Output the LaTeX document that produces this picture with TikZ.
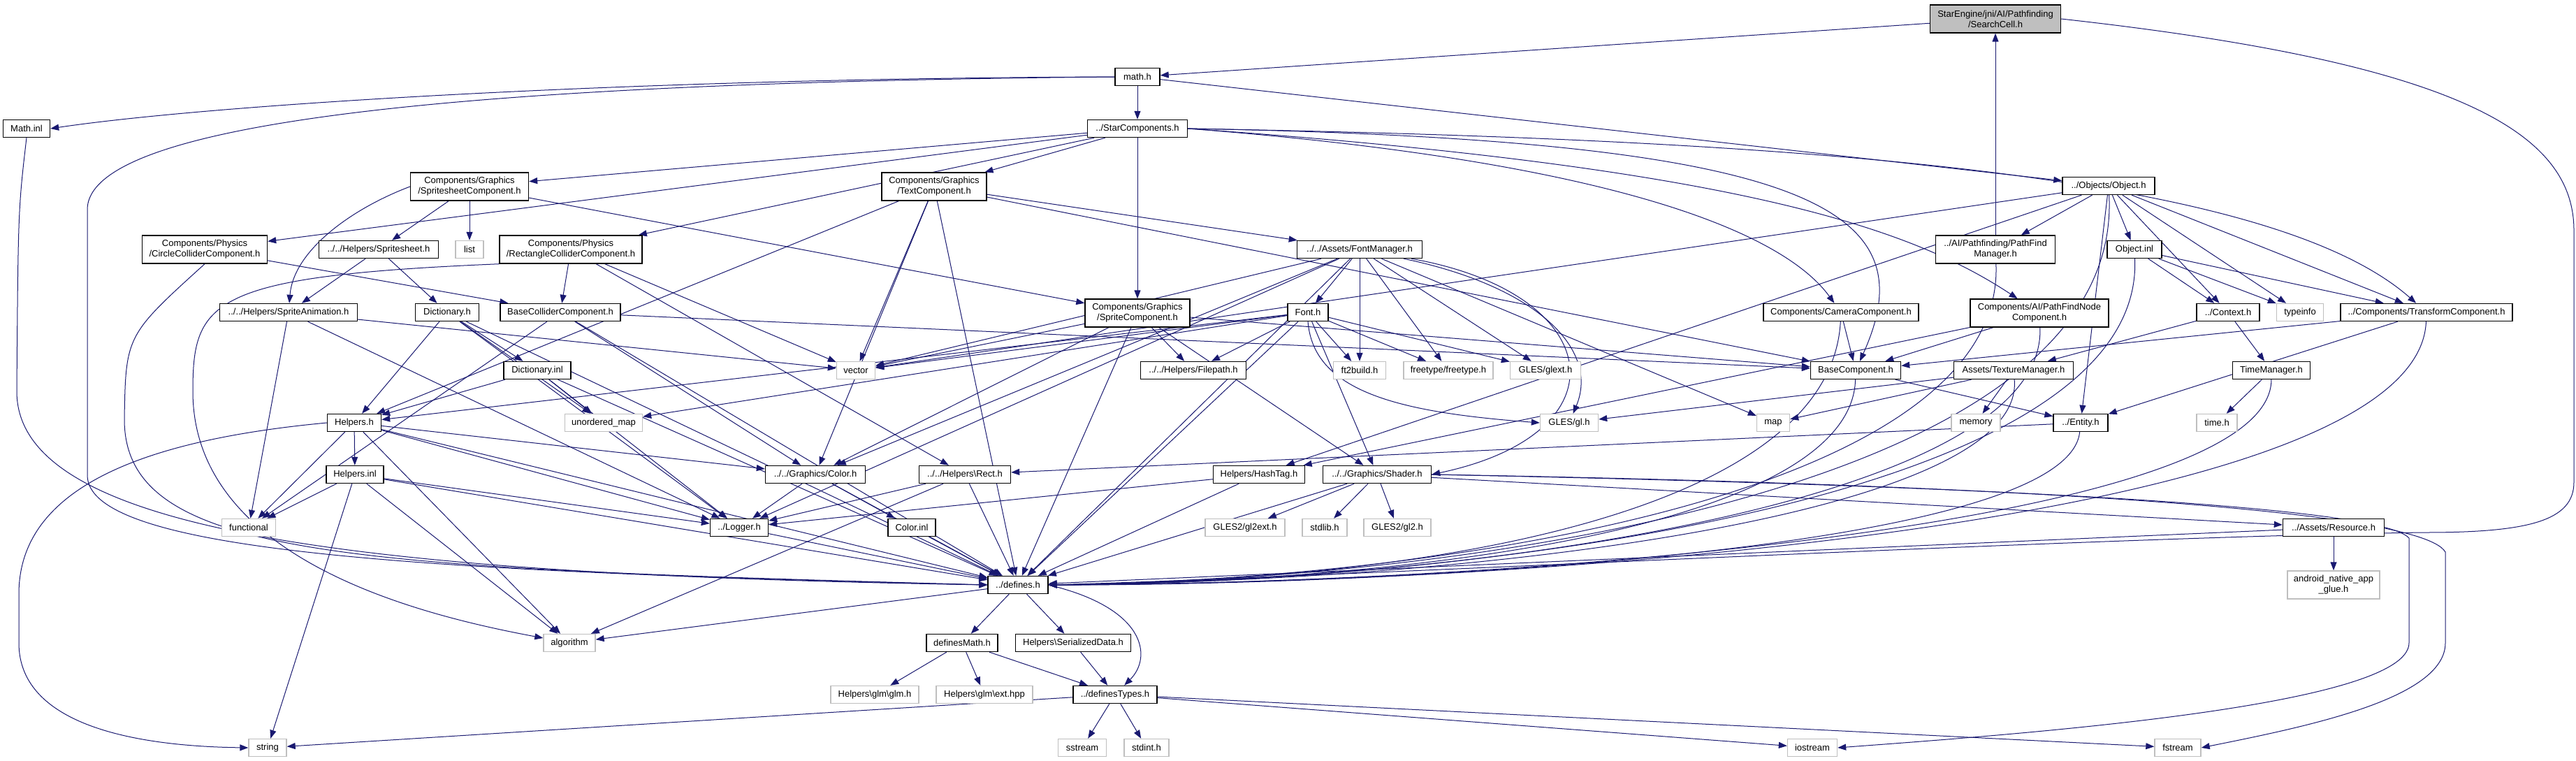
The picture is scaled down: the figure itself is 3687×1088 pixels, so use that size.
\documentclass[tikz,border=0pt]{standalone}
\usepackage{fontspec}
\setmainfont{Liberation Sans}
\usetikzlibrary{arrows.meta,backgrounds}
\definecolor{inclblue}{RGB}{25,25,112}
\definecolor{sysgray}{RGB}{191,191,191}
\tikzset{
  filebox/.style = {draw=black, fill=white, line width=1.4pt, inner sep=0pt,
                    minimum height=25pt, align=center,
                    font=\fontsize{13}{15}\selectfont},
  twoline/.style = {minimum height=40pt},
  sysbox/.style  = {filebox, draw=sysgray},
  rootbox/.style = {filebox, fill=sysgray},
  incl/.style    = {inclblue, line width=1pt, -{Triangle[length=12pt,width=9pt]}}
}

\begin{document}
\begin{tikzpicture}[x=1pt,y=-1pt]
  \useasboundingbox (0,0) rectangle (3687,1088);
  % files, row by row
  \node[rootbox,twoline,minimum width=187pt] (sc) at (2856,27) {StarEngine/jni/AI/Pathfinding\\/SearchCell.h};
  \node[filebox,minimum width=64pt] (mh) at (1628,110) {math.h};
  \node[filebox,minimum width=67pt] (mi) at (38,184) {Math.inl};
  \node[filebox,minimum width=143pt] (stc) at (1628,184) {../StarComponents.h};
  \node[filebox,twoline,minimum width=169pt] (ssc) at (672,267) {Components/Graphics\\/SpritesheetComponent.h};
  \node[filebox,twoline,minimum width=150pt] (txc) at (1337,267) {Components/Graphics\\/TextComponent.h};
  \node[filebox,minimum width=132pt] (obj) at (3018,266) {../Objects/Object.h};
  \node[filebox,twoline,minimum width=179pt] (ccc) at (293,357) {Components/Physics\\/CircleColliderComponent.h};
  \node[filebox,minimum width=171pt] (hss) at (542,357) {../../Helpers/Spritesheet.h};
  \node[sysbox,minimum width=40pt] (lst) at (672,357) {list};
  \node[filebox,twoline,minimum width=204pt] (rcc) at (817,357) {Components/Physics\\/RectangleColliderComponent.h};
  \node[filebox,minimum width=179pt] (fm) at (1946,357) {../../Assets/FontManager.h};
  \node[filebox,twoline,minimum width=171pt] (pfm) at (2856,357) {../AI/Pathfinding/PathFind\\Manager.h};
  \node[filebox,minimum width=78pt] (oi) at (3055,357) {Object.inl};
  \node[filebox,minimum width=197pt] (sa) at (413,447) {../../Helpers/SpriteAnimation.h};
  \node[filebox,minimum width=91pt] (dh) at (640,447) {Dictionary.h};
  \node[filebox,minimum width=172pt] (bcc) at (802,447) {BaseColliderComponent.h};
  \node[filebox,twoline,minimum width=150pt] (spc) at (1628,448) {Components/Graphics\\/SpriteComponent.h};
  \node[filebox,minimum width=58pt] (fh) at (1872,447) {Font.h};
  \node[filebox,minimum width=222pt] (cam) at (2635,447) {Components/CameraComponent.h};
  \node[filebox,twoline,minimum width=198pt] (pfn) at (2919,448) {Components/AI/PathFindNode\\Component.h};
  \node[filebox,minimum width=90pt] (ctx) at (3189,447) {../Context.h};
  \node[sysbox,minimum width=67pt] (ti) at (3292,447) {typeinfo};
  \node[filebox,minimum width=246pt] (trc) at (3473,447) {../Components/TransformComponent.h};
  \node[filebox,minimum width=96pt] (di) at (769,530) {Dictionary.inl};
  \node[sysbox,minimum width=55pt] (vec) at (1225,530) {vector};
  \node[filebox,minimum width=151pt] (fp) at (1708,530) {../../Helpers/Filepath.h};
  \node[sysbox,minimum width=75pt] (ft2) at (1946,530) {ft2build.h};
  \node[sysbox,minimum width=128pt] (ftf) at (2073,530) {freetype/freetype.h};
  \node[sysbox,minimum width=101pt] (glx) at (2212,530) {GLES/glext.h};
  \node[filebox,minimum width=129pt] (bc) at (2656,530) {BaseComponent.h};
  \node[filebox,minimum width=171pt] (tm) at (2882,530) {Assets/TextureManager.h};
  \node[filebox,minimum width=111pt] (tmg) at (3251,530) {TimeManager.h};
  \node[filebox,minimum width=77pt] (hh) at (507,605) {Helpers.h};
  \node[sysbox,minimum width=111pt] (um) at (864,605) {unordered\_map};
  \node[sysbox,minimum width=83pt] (gl) at (2246,605) {GLES/gl.h};
  \node[sysbox,minimum width=47pt] (map) at (2538,605) {map};
  \node[sysbox,minimum width=70pt] (mem) at (2828,605) {memory};
  \node[filebox,minimum width=78pt] (ent) at (2978,605) {../Entity.h};
  \node[sysbox,minimum width=58pt] (tim) at (3173,605) {time.h};
  \node[filebox,minimum width=82pt] (hi) at (508,679) {Helpers.inl};
  \node[filebox,minimum width=143pt] (col) at (1167,679) {../../Graphics/Color.h};
  \node[filebox,minimum width=131pt] (rect) at (1381,679) {../../Helpers\textbackslash Rect.h};
  \node[filebox,minimum width=131pt] (ht) at (1802,679) {Helpers/HashTag.h};
  \node[filebox,minimum width=155pt] (sh) at (1971,679) {../../Graphics/Shader.h};
  \node[sysbox,minimum width=77pt] (fun) at (356,755) {functional};
  \node[filebox,minimum width=83pt] (log) at (1058,755) {../Logger.h};
  \node[filebox,minimum width=68pt] (ci) at (1305,755) {Color.inl};
  \node[sysbox,minimum width=114pt] (gl2x) at (1782,755) {GLES2/gl2ext.h};
  \node[sysbox,minimum width=64pt] (stdl) at (1896,755) {stdlib.h};
  \node[sysbox,minimum width=96pt] (gl2) at (2000,755) {GLES2/gl2.h};
  \node[filebox,minimum width=145pt] (res) at (3340,755) {../Assets/Resource.h};
  \node[filebox,minimum width=86pt] (def) at (1457,837) {../defines.h};
  \node[sysbox,twoline,minimum width=132pt] (ang) at (3340,837) {android\_native\_app\\\_glue.h};
  \node[sysbox,minimum width=74pt] (alg) at (815,920) {algorithm};
  \node[filebox,minimum width=102pt] (dm) at (1377,920) {definesMath.h};
  \node[filebox,minimum width=165pt] (sd) at (1536,920) {Helpers\textbackslash SerializedData.h};
  \node[sysbox,minimum width=126pt] (glm) at (1252,994) {Helpers\textbackslash glm\textbackslash glm.h};
  \node[sysbox,minimum width=138pt] (ext) at (1409,994) {Helpers\textbackslash glm\textbackslash ext.hpp};
  \node[filebox,minimum width=120pt] (dt) at (1596,994) {../definesTypes.h};
  \node[sysbox,minimum width=54pt] (str) at (383,1070) {string};
  \node[sysbox,minimum width=69pt] (ss) at (1549,1070) {sstream};
  \node[sysbox,minimum width=64pt] (si) at (1641,1070) {stdint.h};
  \node[sysbox,minimum width=71pt] (io) at (2594,1070) {iostream};
  \node[sysbox,minimum width=66pt] (fs) at (3117,1070) {fstream};

  \begin{scope}[on background layer]
  % search cell and math
  \draw[incl] (sc) -- (mh);
  \draw[incl] (sc.east) .. controls (3520,90) and (3684,190) .. (3684,330)
        -- (3684,690) .. controls (3684,745) and (3620,762) .. (3470,762)
        .. controls (3000,768) and (1900,826) .. (def.east);
  \draw[incl] (pfm) -- (sc);
  \draw[incl] (pfm) .. controls (2870,700) and (2100,828) .. (def.east);
  \draw[incl] (mh.west) .. controls (900,112) and (300,150) .. (mi.east);
  \draw[incl] (mh.west) .. controls (700,118) and (125,170) .. (125,300)
        -- (125,680) .. controls (125,790) and (600,818) .. (def.west);
  \draw[incl] (mh) -- (stc);
  \draw[incl] (mh) -- (obj);
  \draw[incl] (mi.south) .. controls (26,300) .. (24,560)
        .. controls (24,760) and (500,822) .. (def.west);
  % star components
  \draw[incl] (stc) -- (ssc);
  \draw[incl] (stc) -- (txc);
  \draw[incl] (stc) -- (spc);
  \draw[incl] (stc) -- (ccc);
  \draw[incl] (stc) -- (rcc);
  \draw[incl] (stc.east) .. controls (2300,230) and (2550,330) .. (cam);
  \draw[incl] (stc.east) .. controls (2500,240) and (2740,330) .. (pfn);
  \draw[incl] (stc.east) .. controls (2600,200) and (3250,250) .. (trc);
  \draw[incl] (stc.east) .. controls (2600,200) and (2760,300) .. (bc);
  % sprites and physics
  \draw[incl] (ssc) -- (hss);
  \draw[incl] (ssc) -- (lst);
  \draw[incl] (ssc.west) .. controls (500,300) and (420,360) .. (sa);
  \draw[incl] (ssc) -- (spc);
  \draw[incl] (ccc) -- (bcc);
  \draw[incl] (ccc.south) .. controls (180,480) .. (178,600)
        .. controls (178,800) and (500,812) .. (def.west);
  \draw[incl] (hss) -- (sa);
  \draw[incl] (hss) -- (dh);
  \draw[incl] (rcc) -- (bcc);
  \draw[incl] (rcc) -- (rect);
  \draw[incl] (rcc) -- (vec);
  \draw[incl] (rcc.south west) .. controls (300,395) and (276,430) .. (276,560)
        .. controls (276,800) and (600,880) .. (alg);
  \draw[incl] (sa) -- (vec);
  \draw[incl] (sa) -- (fun);
  \draw[incl] (sa) -- (log);
  \draw[incl] (dh) -- (di);
  \draw[incl] (dh) -- (hh);
  \draw[incl] (dh) -- (um);
  \draw[incl] (dh) -- (def);
  \draw[incl] (dh) -- (log);
  \draw[incl] (di) -- (hh);
  \draw[incl] (di) -- (um);
  \draw[incl] (di) -- (def);
  \draw[incl] (di) -- (log);
  \draw[incl] (bcc) -- (bc);
  \draw[incl] (bcc) -- (col);
  \draw[incl] (bcc) -- (fun);
  \draw[incl] (bcc) -- (def);
  % graphics
  \draw[incl] (spc) -- (vec);
  \draw[incl] (spc) -- (fp);
  \draw[incl] (spc) -- (col);
  \draw[incl] (spc) -- (bc);
  \draw[incl] (spc) -- (sh);
  \draw[incl] (spc) -- (def);
  \draw[incl] (txc) -- (fm);
  \draw[incl] (txc) -- (vec);
  \draw[incl] (txc) -- (col);
  \draw[incl] (txc) -- (bc);
  \draw[incl] (txc) -- (def);
  \draw[incl] (txc) -- (hh);
  \draw[incl] (fm) -- (fh);
  \draw[incl] (fm) -- (ft2);
  \draw[incl] (fm) -- (ftf);
  \draw[incl] (fm) -- (glx);
  \draw[incl] (fm) .. controls (2200,410) and (2290,500) .. (gl);
  \draw[incl] (fm) -- (map);
  \draw[incl] (fm) -- (vec);
  \draw[incl] (fm) -- (col);
  \draw[incl] (fm) .. controls (2300,420) and (2330,620) .. (sh.east);
  \draw[incl] (fm) -- (def);
  \draw[incl] (fm) -- (log);
  \draw[incl] (fh) -- (ft2);
  \draw[incl] (fh) -- (ftf);
  \draw[incl] (fh) -- (glx);
  \draw[incl] (fh.south) .. controls (1880,560) and (2000,590) .. (gl.west);
  \draw[incl] (fh) -- (fp);
  \draw[incl] (fh) -- (vec);
  \draw[incl] (fh) -- (um);
  \draw[incl] (fh) -- (hh);
  \draw[incl] (fh) -- (sh);
  \draw[incl] (fh) -- (def);
  % objects
  \draw[incl] (obj) -- (pfm);
  \draw[incl] (obj) -- (oi);
  \draw[incl] (obj) -- (ctx);
  \draw[incl] (obj) -- (ti);
  \draw[incl] (obj) -- (trc);
  \draw[incl] (obj) -- (ent);
  \draw[incl] (obj) -- (vec);
  \draw[incl] (obj) -- (ht);
  \draw[incl] (obj) .. controls (3040,700) and (2100,830) .. (def.east);
  \draw[incl] (oi) -- (ctx);
  \draw[incl] (oi) -- (ti);
  \draw[incl] (oi) -- (trc);
  \draw[incl] (oi) .. controls (3070,720) and (2100,832) .. (def.east);
  \draw[incl] (cam) -- (bc);
  \draw[incl] (cam) .. controls (2620,720) and (2100,830) .. (def.east);
  \draw[incl] (pfn) -- (bc);
  \draw[incl] (pfn) -- (ht);
  \draw[incl] (pfn) .. controls (2930,720) and (2100,834) .. (def.east);
  \draw[incl] (ctx) -- (tm);
  \draw[incl] (ctx) -- (tmg);
  \draw[incl] (tm) -- (gl);
  \draw[incl] (tm) -- (map);
  \draw[incl] (tm) -- (mem);
  \draw[incl] (tm) .. controls (2900,740) and (2100,832) .. (def.east);
  \draw[incl] (tmg) -- (tim);
  \draw[incl] (tmg) .. controls (3250,760) and (2100,836) .. (def.east);
  \draw[incl] (trc) -- (bc);
  \draw[incl] (trc) -- (ent);
  \draw[incl] (trc) .. controls (3460,760) and (2100,838) .. (def.east);
  \draw[incl] (bc) -- (ent);
  \draw[incl] (bc) .. controls (2650,740) and (2100,830) .. (def.east);
  \draw[incl] (ent) -- (rect);
  \draw[incl] (ent) .. controls (2960,780) and (2100,834) .. (def.east);
  % helpers
  \draw[incl] (hh) -- (hi);
  \draw[incl] (hh.west) .. controls (200,630) and (27,700) .. (27,850)
        -- (27,920) .. controls (27,1040) and (200,1068) .. (str.west);
  \draw[incl] (hh) -- (fun);
  \draw[incl] (hh) -- (alg);
  \draw[incl] (hh) -- (col);
  \draw[incl] (hh) -- (def);
  \draw[incl] (hh) -- (log);
  \draw[incl] (hi) -- (fun);
  \draw[incl] (hi) -- (str);
  \draw[incl] (hi) -- (alg);
  \draw[incl] (hi) -- (def);
  \draw[incl] (hi) -- (log);
  \draw[incl] (col) -- (ci);
  \draw[incl] (col) -- (log);
  \draw[incl] (col) -- (def);
  \draw[incl] (ci) -- (def);
  \draw[incl] (rect) -- (log);
  \draw[incl] (rect) -- (alg);
  \draw[incl] (rect) -- (def);
  \draw[incl] (ht) -- (log);
  \draw[incl] (ht) -- (def);
  \draw[incl] (sh) -- (gl2x);
  \draw[incl] (sh) -- (stdl);
  \draw[incl] (sh) -- (gl2);
  \draw[incl] (sh) -- (res);
  \draw[incl] (sh.east) .. controls (2600,690) and (3400,715) .. (3448,770)
        -- (3448,920) .. controls (3448,1010) and (2900,1050) .. (io.east);
  \draw[incl] (sh.east) .. controls (2700,690) and (3460,720) .. (3500,790)
        -- (3500,920) .. controls (3500,1000) and (3300,1040) .. (fs.east);
  \draw[incl] (sh) -- (def);
  \draw[incl] (log) -- (def);
  \draw[incl] (res) -- (ang);
  \draw[incl] (res) -- (def);
  % defines
  \draw[incl] (def) -- (dm);
  \draw[incl] (def) -- (sd);
  \draw[incl] (def.east) .. controls (1640,870) and (1650,940) .. (dt);
  \draw[incl] (def) -- (alg);
  \draw[incl] (dm) -- (glm);
  \draw[incl] (dm) -- (ext);
  \draw[incl] (dm) -- (dt);
  \draw[incl] (sd) -- (dt);
  \draw[incl] (dt) -- (ss);
  \draw[incl] (dt) -- (si);
  \draw[incl] (dt) -- (str);
  \draw[incl] (dt) -- (io);
  \draw[incl] (dt) -- (fs);
  \end{scope}
\end{tikzpicture}
\end{document}
